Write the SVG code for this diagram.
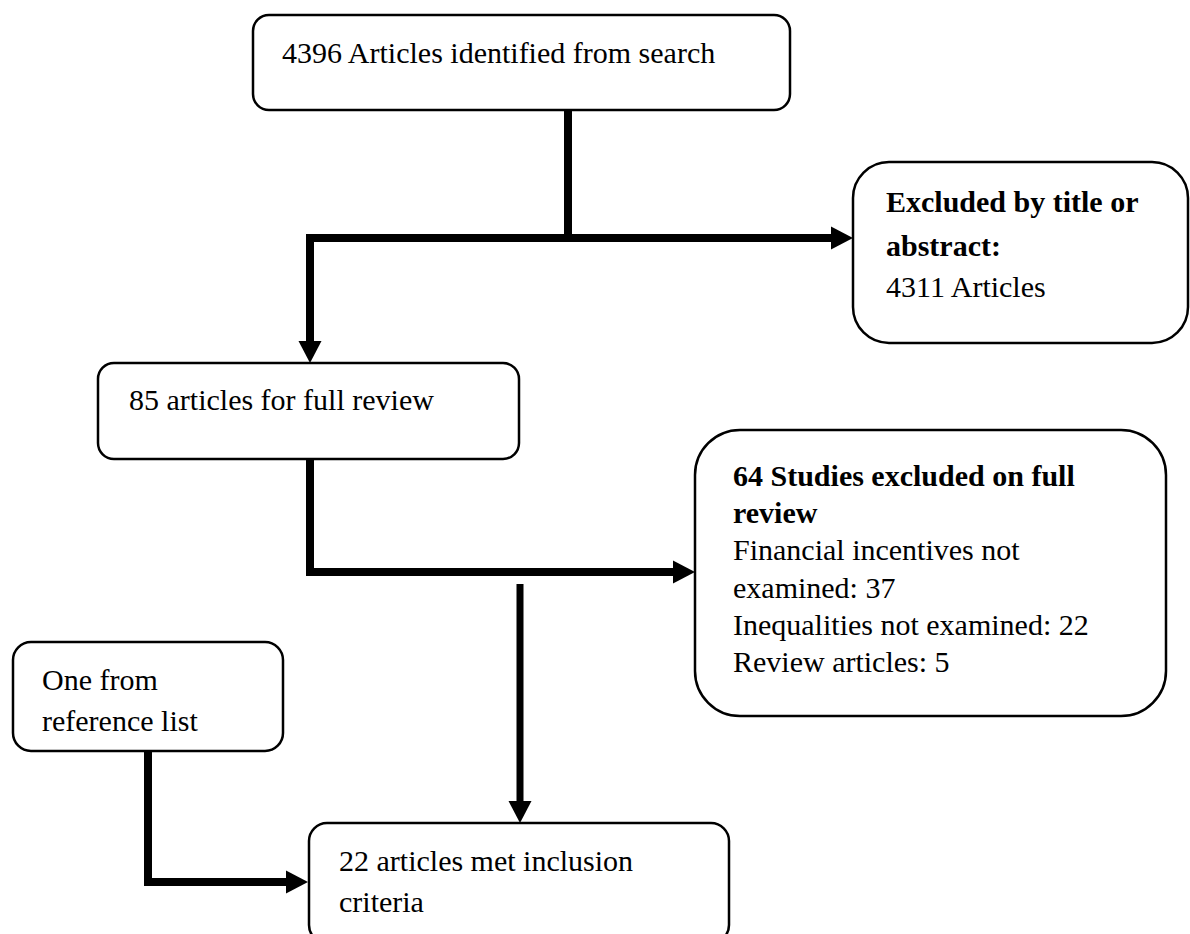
<svg xmlns="http://www.w3.org/2000/svg" width="1190" height="934" viewBox="0 0 1190 934">
<style>
.box{fill:#fff;stroke:#000;stroke-width:2.5}
.t{font-family:"Liberation Serif","Times New Roman",serif;font-size:30px;fill:#000}
.b{font-weight:bold}
.c{fill:none;stroke:#000;stroke-width:8;stroke-linejoin:miter}
</style>
<defs>
<marker id="arr" markerUnits="userSpaceOnUse" markerWidth="23" markerHeight="24" refX="0" refY="12" orient="auto" overflow="visible">
<path d="M0,0.5 L22,12 L0,23.5 Z" fill="#000"/>
</marker>
</defs>
<rect width="1190" height="934" fill="#fff"/>
<g id="connectors">
<path class="c" d="M568,110 V238"/>
<path class="c" d="M306,238 H831" marker-end="url(#arr)"/>
<path class="c" d="M310,238 V341" marker-end="url(#arr)"/>
<path class="c" d="M310,459 V572 H673" marker-end="url(#arr)"/>
<path class="c" d="M520,584 V801" marker-end="url(#arr)" style="stroke-width:7"/>
<path class="c" d="M148,751 V882 H286" marker-end="url(#arr)"/>
</g>
<g id="n1">
<rect class="box" x="253" y="15" width="537" height="95" rx="16"/>
<text class="t" x="282" y="63">4396 Articles identified from search</text>
</g>
<g id="n2">
<rect class="box" x="853" y="162" width="335" height="181" rx="36"/>
<text class="t b" x="886" y="212">Excluded by title or</text>
<text class="t b" x="886" y="256">abstract:</text>
<text class="t" x="886" y="297">4311 Articles</text>
</g>
<g id="n3">
<rect class="box" x="98" y="363" width="421" height="96" rx="16"/>
<text class="t" x="129" y="410">85 articles for full review</text>
</g>
<g id="n4">
<rect class="box" x="695" y="430" width="471" height="286" rx="45"/>
<text class="t b" x="733" y="486">64 Studies excluded on full</text>
<text class="t b" x="733" y="523">review</text>
<text class="t" x="733" y="560">Financial incentives not</text>
<text class="t" x="733" y="598">examined: 37</text>
<text class="t" x="733" y="635">Inequalities not examined: 22</text>
<text class="t" x="733" y="672">Review articles: 5</text>
</g>
<g id="n6">
<rect class="box" x="13" y="642" width="270" height="109" rx="18"/>
<text class="t" x="42" y="690">One from</text>
<text class="t" x="42" y="731">reference list</text>
</g>
<g id="n5">
<rect class="box" x="309" y="823" width="420" height="120" rx="18"/>
<text class="t" x="339" y="871">22 articles met inclusion</text>
<text class="t" x="339" y="912">criteria</text>
</g>
</svg>
